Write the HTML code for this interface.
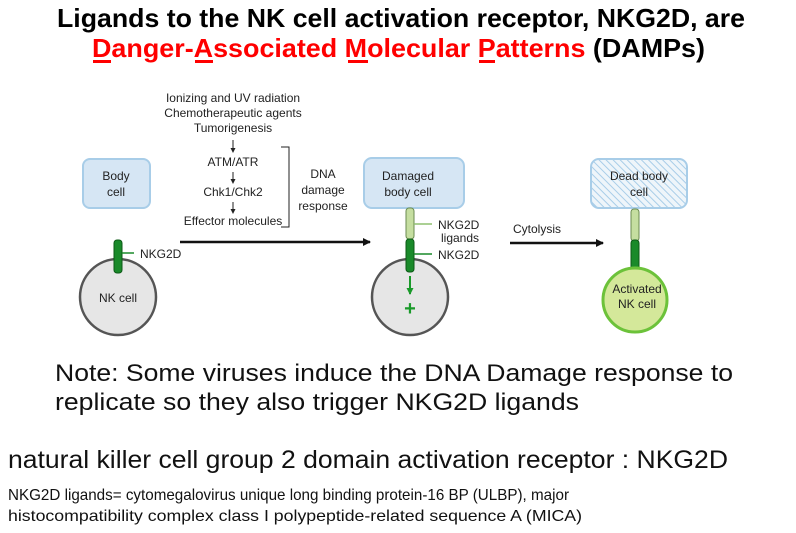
<!DOCTYPE html>
<html><head><meta charset="utf-8"><style>
html,body{margin:0;padding:0;background:#fff;}
svg{display:block;font-family:"Liberation Sans",Arial,sans-serif;}
</style></head><body>
<svg width="796" height="533" viewBox="0 0 796 533" xmlns="http://www.w3.org/2000/svg">
<defs>
<pattern id="h" width="5" height="5" patternUnits="userSpaceOnUse" patternTransform="rotate(-45)">
<rect width="5" height="5" fill="#eef5fa"/><line x1="0" y1="0" x2="0" y2="5" stroke="#a8cde8" stroke-width="2"/>
</pattern>
<marker id="ab" markerWidth="8" markerHeight="8" refX="7" refY="4" orient="auto" markerUnits="userSpaceOnUse"><path d="M0,0 L8,4 L0,8 z" fill="#111"/></marker>
<marker id="as" markerWidth="5" markerHeight="5" refX="4" refY="2.5" orient="auto" markerUnits="userSpaceOnUse"><path d="M0,0 L5,2.5 L0,5 z" fill="#222"/></marker>
<marker id="ag" markerWidth="7" markerHeight="7" refX="6" refY="3.5" orient="auto" markerUnits="userSpaceOnUse"><path d="M0,0 L7,3.5 L0,7 z" fill="#1a9a2a"/></marker>
</defs>
<text x="401" y="27" font-size="26" font-weight="bold" text-anchor="middle" textLength="688" lengthAdjust="spacingAndGlyphs">Ligands to the NK cell activation receptor, NKG2D, are</text>
<text x="92" y="57" font-size="26" font-weight="bold" textLength="613" lengthAdjust="spacingAndGlyphs"><tspan fill="#ff0000">Danger-Associated Molecular Patterns</tspan> (DAMPs)</text>
<rect x="93" y="60" width="18" height="3" fill="#ff0000"/>
<rect x="195" y="60" width="18" height="3" fill="#ff0000"/>
<rect x="348" y="60" width="20" height="3" fill="#ff0000"/>
<rect x="479" y="60" width="16" height="3" fill="#ff0000"/>

<g font-size="12" text-anchor="middle" fill="#222">
<text x="233" y="102">Ionizing and UV radiation</text>
<text x="233" y="117">Chemotherapeutic agents</text>
<text x="233" y="132">Tumorigenesis</text>
<text x="233" y="166">ATM/ATR</text>
<text x="233" y="196">Chk1/Chk2</text>
<text x="233" y="225">Effector molecules</text>
<text x="323" y="178">DNA</text>
<text x="323" y="194">damage</text>
<text x="323" y="210">response</text>
</g>
<g stroke="#222" stroke-width="1" fill="none">
<line x1="233" y1="140" x2="233" y2="152" marker-end="url(#as)"/>
<line x1="233" y1="172" x2="233" y2="183" marker-end="url(#as)"/>
<line x1="233" y1="202" x2="233" y2="213" marker-end="url(#as)"/>
<path d="M281,147 H289 V227 H281"/>
</g>

<rect x="83" y="159" width="67" height="49" rx="7" fill="#d6e6f4" stroke="#a8cde8" stroke-width="2"/>
<text x="116" y="180" font-size="12" text-anchor="middle" fill="#222">Body</text>
<text x="116" y="196" font-size="12" text-anchor="middle" fill="#222">cell</text>
<circle cx="118" cy="297" r="38" fill="#e6e6e6" stroke="#555" stroke-width="2.5"/>
<rect x="114" y="240" width="8" height="33" rx="3" fill="#1a8a2a" stroke="#0c5a16" stroke-width="1"/>
<line x1="122" y1="253" x2="134" y2="253" stroke="#1a8a2a" stroke-width="1.5"/>
<text x="140" y="258" font-size="12" fill="#222">NKG2D</text>
<text x="118" y="302" font-size="12" text-anchor="middle" fill="#222">NK cell</text>

<line x1="180" y1="242" x2="370" y2="242" stroke="#111" stroke-width="2.5" marker-end="url(#ab)"/>

<rect x="364" y="158" width="100" height="50" rx="8" fill="#d6e6f4" stroke="#a8cde8" stroke-width="2"/>
<text x="408" y="180" font-size="12" text-anchor="middle" fill="#222">Damaged</text>
<text x="408" y="196" font-size="12" text-anchor="middle" fill="#222">body cell</text>
<rect x="406" y="208" width="8" height="31" rx="3" fill="#c5dea0" stroke="#6a8a50" stroke-width="1"/>
<circle cx="410" cy="297" r="38" fill="#e6e6e6" stroke="#555" stroke-width="2.5"/>
<rect x="406" y="239" width="8" height="33" rx="3" fill="#1a8a2a" stroke="#0c5a16" stroke-width="1"/>
<line x1="414" y1="224" x2="432" y2="224" stroke="#8fc070" stroke-width="1.5"/>
<line x1="414" y1="254" x2="432" y2="254" stroke="#1a8a2a" stroke-width="1.5"/>
<text x="438" y="229" font-size="12" fill="#222">NKG2D</text>
<text x="441" y="242" font-size="12" fill="#222">ligands</text>
<text x="438" y="259" font-size="12" fill="#222">NKG2D</text>
<line x1="410" y1="276" x2="410" y2="294" stroke="#1a9a2a" stroke-width="2" marker-end="url(#ag)"/>
<text x="410" y="315" font-size="20" font-weight="bold" text-anchor="middle" fill="#1a9a2a">+</text>

<text x="513" y="233" font-size="12" fill="#222">Cytolysis</text>
<line x1="510" y1="243" x2="603" y2="243" stroke="#111" stroke-width="2.5" marker-end="url(#ab)"/>

<rect x="591" y="159" width="96" height="49" rx="8" fill="url(#h)" stroke="#a8cde8" stroke-width="2"/>
<text x="639" y="180" font-size="12" text-anchor="middle" fill="#222">Dead body</text>
<text x="639" y="196" font-size="12" text-anchor="middle" fill="#222">cell</text>
<rect x="631" y="209" width="8" height="32" rx="3" fill="#c5dea0" stroke="#6a8a50" stroke-width="1"/>
<rect x="631" y="240" width="8" height="32" rx="3" fill="#1a8a2a" stroke="#0c5a16" stroke-width="1"/>
<circle cx="635" cy="300" r="32" fill="#d4e89a" stroke="#6cc23a" stroke-width="3"/>
<text x="637" y="293" font-size="12" text-anchor="middle" fill="#222">Activated</text>
<text x="637" y="308" font-size="12" text-anchor="middle" fill="#222">NK cell</text>

<text x="55" y="381" font-size="24" fill="#111" textLength="678" lengthAdjust="spacingAndGlyphs">Note: Some viruses induce the DNA Damage response to</text>
<text x="55" y="410" font-size="24" fill="#111" textLength="524" lengthAdjust="spacingAndGlyphs">replicate so they also trigger NKG2D ligands</text>

<text x="8" y="468" font-size="25" fill="#111" textLength="720" lengthAdjust="spacingAndGlyphs">natural killer cell group 2 domain activation receptor : NKG2D</text>
<text x="8" y="500" font-size="16" fill="#111" textLength="561" lengthAdjust="spacingAndGlyphs">NKG2D ligands= cytomegalovirus unique long binding protein-16 BP (ULBP), major</text>
<text x="8" y="521" font-size="16" fill="#111" textLength="574" lengthAdjust="spacingAndGlyphs">histocompatibility complex class I polypeptide-related sequence A (MICA)</text>
</svg>
</body></html>
